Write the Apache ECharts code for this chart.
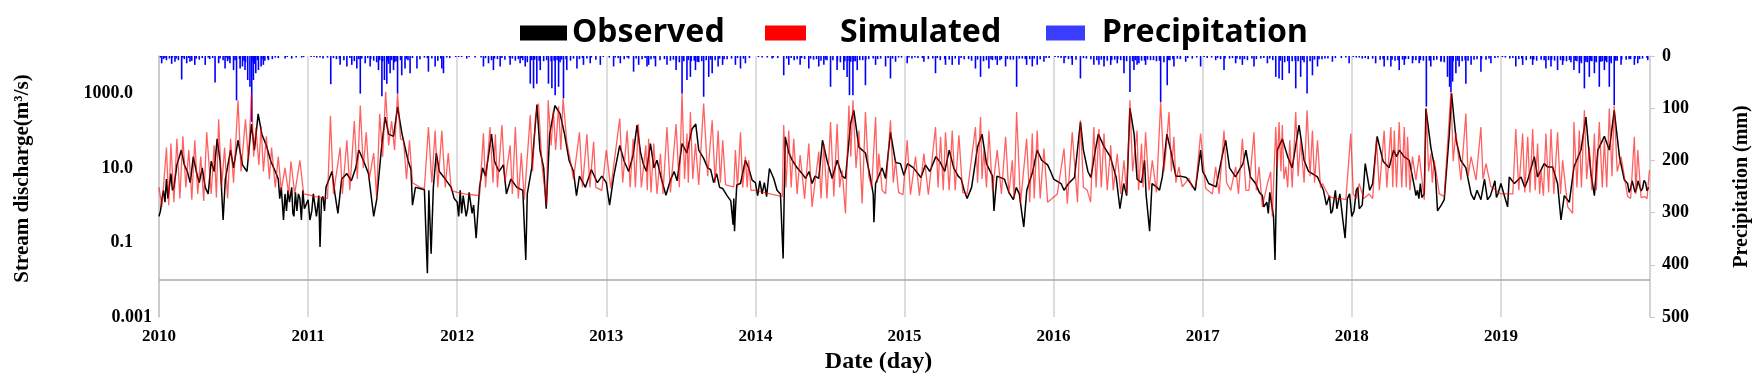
<!DOCTYPE html>
<html><head><meta charset="utf-8">
<script src="https://cdn.jsdelivr.net/npm/echarts@6/dist/echarts.min.js"></script>
<style>html,body{margin:0;padding:0;background:#fff}#c{width:1764px;height:386px}</style>
</head><body><div id="c"></div>
<script>
// x values are decimal years, discharge in m3/s, precipitation in mm
const observed = [
[2010.00,0.5],[2010.01,0.7],[2010.02,1.5],[2010.03,2.5],[2010.04,1.2],[2010.05,5],[2010.06,1.5],[2010.08,7],[2010.09,2.5],[2010.10,3],[2010.12,12],[2010.15,30],[2010.17,12],[2010.19,8],[2010.21,4],[2010.23,20],[2010.25,8],[2010.27,4],[2010.29,10],[2010.31,3],[2010.33,2],[2010.35,15],[2010.37,8],[2010.39,60],[2010.41,15],[2010.43,0.4],[2010.445,5],[2010.48,30],[2010.50,10],[2010.53,55],[2010.56,12],[2010.59,8],[2010.62,150],[2010.64,30],[2010.665,280],[2010.69,80],[2010.72,40],[2010.75,15],[2010.78,8],[2010.80,5],[2010.81,1.5],[2010.82,3],[2010.835,0.4],[2010.845,2],[2010.855,0.7],[2010.865,2.5],[2010.875,1.2],[2010.89,3],[2010.898,0.6],[2010.905,0.5],[2010.915,2.2],[2010.925,0.7],[2010.935,2],[2010.945,1.5],[2010.955,0.4],[2010.965,2.5],[2010.975,0.8],[2010.985,1.0],
[2011.00,1.4],[2011.012,0.4],[2011.025,0.7],[2011.035,2],[2011.047,2],[2011.056,0.5],[2011.065,0.5],[2011.072,1.8],[2011.08,0.076],[2011.09,1.5],[2011.10,1.7],[2011.11,0.7],[2011.12,3],[2011.16,8],[2011.18,2],[2011.20,0.6],[2011.225,5],[2011.26,7],[2011.29,4.5],[2011.32,10],[2011.34,30],[2011.37,16],[2011.405,7],[2011.44,0.5],[2011.46,1.4],[2011.495,45],[2011.517,230],[2011.54,80],[2011.573,70],[2011.60,430],[2011.63,80],[2011.67,16],[2011.69,9],[2011.70,1.0],[2011.72,3],[2011.75,2.8],[2011.78,2.6],[2011.80,0.015],[2011.81,2.5],[2011.825,0.05],[2011.84,3],[2011.86,25],[2011.88,8],[2011.92,5],[2011.96,3],[2011.98,1.5],
[2012.00,1.2],[2012.01,0.5],[2012.02,2.5],[2012.03,0.6],[2012.04,1.8],[2012.05,2],[2012.06,0.5],[2012.07,0.8],[2012.08,2.2],[2012.09,2.2],[2012.10,0.6],[2012.11,1.0],[2012.127,0.13],[2012.15,3],[2012.17,10],[2012.19,6],[2012.23,80],[2012.25,15],[2012.28,8],[2012.31,12],[2012.33,2],[2012.36,5],[2012.40,3],[2012.44,2.5],[2012.46,0.034],[2012.47,2],[2012.50,10],[2012.535,500],[2012.555,30],[2012.58,10],[2012.597,0.8],[2012.62,80],[2012.655,470],[2012.69,280],[2012.72,80],[2012.75,16],[2012.78,8],[2012.80,1.8],[2012.82,6],[2012.86,3],[2012.90,9],[2012.94,4],[2012.97,6],
[2013.00,4],[2013.022,1.0],[2013.05,6],[2013.09,40],[2013.12,15],[2013.15,8],[2013.18,22],[2013.206,140],[2013.23,25],[2013.25,12],[2013.27,8],[2013.296,45],[2013.32,10],[2013.34,16],[2013.37,5],[2013.40,1.85],[2013.43,4.7],[2013.455,8],[2013.475,4.5],[2013.508,45],[2013.54,25],[2013.575,110],[2013.60,150],[2013.62,30],[2013.653,18],[2013.68,10],[2013.70,9],[2013.72,4],[2013.74,7],[2013.76,3],[2013.78,2.8],[2013.81,1.8],[2013.835,1.3],[2013.845,0.5],[2013.85,0.3],[2013.855,1.5],[2013.86,0.2],[2013.865,0.6],[2013.875,3.5],[2013.90,3.8],[2013.933,16],[2013.955,10],[2013.978,4.7],
[2014.00,4],[2014.015,1.8],[2014.03,4.5],[2014.045,2],[2014.06,4],[2014.075,1.7],[2014.094,9.6],[2014.123,5.2],[2014.145,2.5],[2014.168,2.0],[2014.186,0.037],[2014.20,68],[2014.225,25],[2014.247,16],[2014.28,10],[2014.314,7],[2014.336,5.2],[2014.36,8],[2014.38,3.8],[2014.40,6],[2014.425,5.2],[2014.45,55],[2014.48,16],[2014.515,5.2],[2014.548,16],[2014.582,6],[2014.604,5.2],[2014.638,150],[2014.66,350],[2014.694,36],[2014.738,25],[2014.772,5.2],[2014.79,2],[2014.795,0.35],[2014.806,3.8],[2014.85,10],[2014.873,5.2],[2014.906,90],[2014.94,14],[2014.973,13],[2014.996,6.3],
[2015.02,13],[2015.06,10],[2015.09,7],[2015.11,5.5],[2015.14,12],[2015.17,8],[2015.21,20],[2015.24,14],[2015.27,8],[2015.30,30],[2015.33,10],[2015.36,6],[2015.38,5],[2015.40,2.5],[2015.42,1.5],[2015.45,3],[2015.49,36],[2015.52,80],[2015.55,13],[2015.59,6],[2015.60,0.7],[2015.62,6],[2015.67,5],[2015.70,2.2],[2015.73,1.4],[2015.75,3],[2015.77,2],[2015.79,0.5],[2015.80,0.26],[2015.82,2.5],[2015.86,8],[2015.89,30],[2015.92,16],[2015.96,12],[2015.98,8],
[2016.00,5],[2016.05,3.8],[2016.07,2.5],[2016.10,3.8],[2016.14,5.5],[2016.18,170],[2016.20,30],[2016.23,8],[2016.25,5.5],[2016.28,30],[2016.30,80],[2016.34,36],[2016.38,20],[2016.42,5.5],[2016.445,0.8],[2016.47,3.8],[2016.49,1.8],[2016.512,400],[2016.54,80],[2016.56,5],[2016.59,4],[2016.61,16],[2016.62,2],[2016.644,0.2],[2016.66,3.8],[2016.69,3.1],[2016.71,2.5],[2016.73,6],[2016.76,80],[2016.785,30],[2016.82,6],[2016.85,6],[2016.89,5.5],[2016.92,3.8],[2016.95,2.5],[2016.986,30],
[2017.00,8],[2017.02,5.7],[2017.04,3.8],[2017.09,3.1],[2017.13,20],[2017.154,55],[2017.18,10],[2017.22,5.7],[2017.27,13],[2017.29,30],[2017.32,5.7],[2017.355,3.8],[2017.38,2.2],[2017.40,1.8],[2017.41,0.9],[2017.43,1.2],[2017.44,0.6],[2017.45,2.2],[2017.475,0.5],[2017.485,0.034],[2017.50,30],[2017.534,60],[2017.57,20],[2017.60,10],[2017.646,140],[2017.68,16],[2017.71,8],[2017.77,5.7],[2017.81,2.5],[2017.83,1.0],[2017.85,1.8],[2017.86,0.6],[2017.87,0.7],[2017.89,2.5],[2017.90,0.8],[2017.92,2],[2017.93,1.8],[2017.94,0.4],[2017.955,0.13],[2017.97,1.5],[2017.985,2],
[2018.00,0.5],[2018.015,0.7],[2018.03,2.5],[2018.04,3],[2018.05,0.8],[2018.07,1.0],[2018.09,13],[2018.12,2.5],[2018.14,3.8],[2018.17,70],[2018.21,15],[2018.25,10],[2018.28,30],[2018.30,20],[2018.32,30],[2018.35,20],[2018.385,16],[2018.42,3.1],[2018.43,1.8],[2018.44,2.5],[2018.45,1.5],[2018.46,3.8],[2018.47,1.6],[2018.486,2],[2018.497,390],[2018.53,36],[2018.56,8],[2018.575,0.7],[2018.60,1.0],[2018.62,1.4],[2018.654,83],[2018.669,1000],[2018.70,55],[2018.73,16],[2018.765,10],[2018.80,2],[2018.82,1.4],[2018.84,2.5],[2018.866,1.4],[2018.89,5],[2018.91,1.4],[2018.93,1.8],[2018.96,4.5],[2018.97,1.6],[2018.98,2],
[2019.00,3.8],[2019.02,2],[2019.045,0.9],[2019.056,5.7],[2019.09,3.8],[2019.135,5.7],[2019.16,3],[2019.18,4.7],[2019.224,20],[2019.246,5.7],[2019.29,13],[2019.313,10.6],[2019.347,10.6],[2019.38,3.8],[2019.403,0.4],[2019.425,1.8],[2019.459,1.2],[2019.49,10.6],[2019.537,30],[2019.57,230],[2019.604,7],[2019.627,1.8],[2019.65,30],[2019.694,70],[2019.727,30],[2019.76,350],[2019.795,20],[2019.828,4.7],[2019.85,3.8],[2019.86,2.2],[2019.87,2.8],[2019.88,4.5],[2019.89,4],[2019.90,2.2],[2019.91,2.8],[2019.92,4.5],[2019.93,4.2],[2019.94,2.4],[2019.95,2.8],[2019.96,4.6],[2019.97,4],[2019.98,2.4],[2019.99,3]
];

const simulated = [
[2010.00,3],[2010.02,0.9],[2010.05,35],[2010.065,1.0],[2010.08,45],[2010.10,1.2],[2010.12,60],[2010.14,1.5],[2010.16,70],[2010.18,3],[2010.20,30],[2010.22,1.4],[2010.24,55],[2010.26,2],[2010.28,20],[2010.30,1.3],[2010.32,90],[2010.35,2],[2010.37,40],[2010.385,1.6],[2010.40,200],[2010.42,3],[2010.44,35],[2010.46,1.5],[2010.48,60],[2010.50,4],[2010.53,650],[2010.55,8],[2010.58,200],[2010.60,15],[2010.62,1000],[2010.635,20],[2010.65,120],[2010.67,12],[2010.685,130],[2010.70,8],[2010.72,70],[2010.74,5],[2010.755,35],[2010.78,3],[2010.80,20],[2010.82,2.5],[2010.845,10],[2010.87,2],[2010.885,15],[2010.91,2],[2010.945,16],[2010.97,2],
[2011.00,1.9],[2011.05,1.7],[2011.10,1.6],[2011.13,1.5],[2011.15,250],[2011.17,2],[2011.215,35],[2011.23,2],[2011.26,55],[2011.28,2.5],[2011.31,180],[2011.33,5],[2011.35,470],[2011.37,10],[2011.39,90],[2011.41,5],[2011.44,25],[2011.46,1.5],[2011.48,280],[2011.50,20],[2011.52,1100],[2011.54,40],[2011.56,180],[2011.58,30],[2011.60,1000],[2011.62,60],[2011.64,55],[2011.66,5],[2011.68,55],[2011.70,4],[2011.75,3],[2011.78,2.8],[2011.807,125],[2011.83,4],[2011.852,100],[2011.87,3],[2011.897,100],[2011.92,3],[2011.94,25],[2011.96,2.5],
[2012.00,2.2],[2012.05,2.0],[2012.10,1.9],[2012.15,1.8],[2012.176,85],[2012.19,3],[2012.22,125],[2012.24,4],[2012.256,80],[2012.27,3],[2012.30,140],[2012.32,4],[2012.355,40],[2012.37,2],[2012.39,125],[2012.41,1.5],[2012.43,25],[2012.45,1.4],[2012.49,260],[2012.505,8],[2012.525,230],[2012.545,530],[2012.57,10],[2012.60,1.0],[2012.61,650],[2012.63,40],[2012.645,350],[2012.66,30],[2012.68,450],[2012.695,30],[2012.71,720],[2012.735,50],[2012.76,15],[2012.78,5],[2012.82,90],[2012.84,3],[2012.87,80],[2012.89,3],[2012.915,50],[2012.93,3],[2012.97,2.5],
[2013.00,30],[2013.03,2.8],[2013.09,210],[2013.11,4],[2013.14,100],[2013.16,3],[2013.18,60],[2013.195,3],[2013.215,150],[2013.235,3],[2013.265,40],[2013.275,2.5],[2013.284,60],[2013.30,2.2],[2013.318,45],[2013.34,2],[2013.363,24],[2013.38,2],[2013.407,125],[2013.43,2.2],[2013.468,150],[2013.49,3],[2013.508,1000],[2013.525,5],[2013.541,83],[2013.55,4],[2013.564,315],[2013.58,5],[2013.598,45],[2013.62,3.5],[2013.653,530],[2013.68,6],[2013.71,190],[2013.73,4],[2013.75,100],[2013.765,4],[2013.781,55],[2013.80,3.5],[2013.855,3.1],[2013.866,30],[2013.88,3],[2013.90,90],[2013.915,3],[2013.933,20],[2013.945,3],[2013.955,16],[2013.97,2.5],
[2014.00,2.5],[2014.05,2.2],[2014.10,2],[2014.15,1.8],[2014.18,1.7],[2014.19,140],[2014.205,3],[2014.224,100],[2014.24,3],[2014.257,60],[2014.28,2],[2014.30,22],[2014.33,1.5],[2014.358,45],[2014.38,0.9],[2014.425,27],[2014.44,1.5],[2014.459,45],[2014.48,1.5],[2014.504,170],[2014.526,1.7],[2014.548,150],[2014.565,3],[2014.582,8.6],[2014.604,0.6],[2014.627,470],[2014.64,20],[2014.654,650],[2014.675,10],[2014.694,100],[2014.716,1.1],[2014.738,315],[2014.76,6],[2014.78,3],[2014.806,230],[2014.818,4],[2014.828,24],[2014.85,2.5],[2014.873,2],[2014.906,190],[2014.925,4],[2014.94,16],[2014.96,2.2],
[2014.99,1.9],[2015.018,55],[2015.04,1.9],[2015.074,20],[2015.10,1.8],[2015.13,24],[2015.16,1.9],[2015.208,125],[2015.225,3],[2015.242,68],[2015.26,2.5],[2015.275,90],[2015.30,2.5],[2015.32,100],[2015.34,2.5],[2015.365,75],[2015.39,2.2],[2015.42,2],[2015.476,125],[2015.49,4],[2015.51,230],[2015.52,5],[2015.532,30],[2015.55,3],[2015.566,100],[2015.59,2.5],[2015.622,30],[2015.65,2],[2015.678,68],[2015.70,2],[2015.723,16],[2015.735,1.5],[2015.752,315],[2015.778,1.1],[2015.819,60],[2015.84,1.2],[2015.857,83],[2015.87,1.5],[2015.89,100],[2015.91,1.5],[2015.935,33],[2015.96,1.2],[2015.99,1.5],
[2016.025,2],[2016.07,33],[2016.092,1.1],[2016.125,90],[2016.16,1.2],[2016.18,190],[2016.20,3],[2016.226,2.5],[2016.248,1.2],[2016.27,125],[2016.285,3],[2016.304,110],[2016.32,3],[2016.338,83],[2016.36,2.5],[2016.383,40],[2016.40,2.5],[2016.427,24],[2016.45,2],[2016.472,16],[2016.49,2],[2016.512,650],[2016.53,8],[2016.56,100],[2016.57,2.5],[2016.59,45],[2016.60,3],[2016.617,90],[2016.64,2.5],[2016.662,16],[2016.69,2.2],[2016.718,590],[2016.74,8],[2016.75,20],[2016.774,315],[2016.79,8],[2016.807,68],[2016.82,4],[2016.84,10.6],[2016.863,3.1],[2016.908,5.2],[2016.93,3],[2016.953,3.1],[2016.986,83],
[2017.02,2.8],[2017.065,2],[2017.087,10.6],[2017.11,2],[2017.143,100],[2017.16,4],[2017.188,2.5],[2017.221,10.6],[2017.24,2],[2017.266,60],[2017.29,2.5],[2017.31,2.5],[2017.344,90],[2017.36,2.5],[2017.378,10.6],[2017.40,0.9],[2017.434,3.8],[2017.456,7.8],[2017.467,0.49],[2017.49,125],[2017.50,10],[2017.512,170],[2017.525,8],[2017.534,140],[2017.545,5],[2017.557,10.6],[2017.57,3],[2017.584,55],[2017.60,3],[2017.624,315],[2017.64,6],[2017.657,55],[2017.68,4],[2017.70,350],[2017.72,6],[2017.736,100],[2017.75,4],[2017.77,55],[2017.79,3],[2017.803,3.8],[2017.848,1.7],[2017.89,1.5],[2017.93,1.5],[2017.96,1.4],[2017.993,83],[2018.01,2],[2018.03,1.5],[2018.049,3.8],[2018.08,1.5],[2018.116,2],[2018.14,1.5],
[2018.165,60],[2018.185,2.5],[2018.217,100],[2018.235,3],[2018.262,125],[2018.275,3],[2018.285,100],[2018.30,3],[2018.318,170],[2018.335,3],[2018.352,125],[2018.365,3],[2018.374,68],[2018.39,2.5],[2018.407,20],[2018.43,4.7],[2018.452,22],[2018.486,1.4],[2018.50,390],[2018.515,8],[2018.53,24],[2018.54,4],[2018.553,16],[2018.587,2],[2018.62,1.7],[2018.665,1100],[2018.68,15],[2018.698,90],[2018.732,4.7],[2018.765,285],[2018.78,6],[2018.80,20],[2018.833,4.7],[2018.866,125],[2018.88,5],[2018.90,13],[2018.933,3.1],[2018.967,2.5],[2019.00,2],[2019.05,2],[2019.08,2],
[2019.10,110],[2019.12,2.5],[2019.146,83],[2019.16,2.2],[2019.18,68],[2019.195,2.2],[2019.213,110],[2019.23,2.5],[2019.246,45],[2019.26,2],[2019.269,8.6],[2019.285,1.8],[2019.302,83],[2019.32,2.2],[2019.336,110],[2019.355,2],[2019.38,90],[2019.40,2],[2019.414,16],[2019.448,0.9],[2019.481,0.6],[2019.49,170],[2019.51,3],[2019.526,100],[2019.54,3],[2019.56,350],[2019.575,5],[2019.593,36],[2019.61,2.5],[2019.627,83],[2019.64,2.5],[2019.66,170],[2019.68,3],[2019.694,55],[2019.71,3],[2019.727,390],[2019.745,6],[2019.76,470],[2019.78,8],[2019.806,20],[2019.85,1.7],[2019.87,1.5],[2019.895,68],[2019.905,2],[2019.918,30],[2019.94,1.6],[2019.962,1.7],[2019.98,1.5],[2019.996,8.6]
];

const precipitationMajor = [
[2010.018,14],[2010.05,8],[2010.085,15],[2010.107,11],[2010.152,45],[2010.186,14],[2010.208,11],[2010.24,17],[2010.31,17],[2010.376,51],[2010.40,14],[2010.443,24],[2010.476,14],[2010.50,27],[2010.52,85],[2010.544,24],[2010.56,20],[2010.577,27],[2010.595,46],[2010.61,59],[2010.622,126],[2010.633,46],[2010.649,33],[2010.667,27],[2010.685,20],[2010.70,17],[2010.734,8],[2010.846,5],[2010.89,5],[2010.957,3],
[2011.058,3],[2011.10,5],[2011.152,54],[2011.215,17],[2011.26,20],[2011.293,17],[2011.327,24],[2011.35,72],[2011.383,14],[2011.416,20],[2011.472,27],[2011.495,77],[2011.512,46],[2011.528,53],[2011.55,33],[2011.573,27],[2011.60,72],[2011.628,37],[2011.65,24],[2011.684,33],[2011.73,24],[2011.807,30],[2011.852,20],[2011.897,24],[2011.908,33],
[2012.064,5],[2012.176,20],[2012.21,14],[2012.243,27],[2012.288,20],[2012.355,17],[2012.422,14],[2012.456,20],[2012.49,53],[2012.512,62],[2012.534,53],[2012.557,27],[2012.612,53],[2012.635,62],[2012.657,75],[2012.68,59],[2012.713,81],[2012.735,27],[2012.803,24],[2012.847,17],[2012.892,14],[2012.96,17],
[2013.049,20],[2013.094,14],[2013.183,30],[2013.217,17],[2013.273,20],[2013.284,17],[2013.33,20],[2013.407,17],[2013.468,27],[2013.508,72],[2013.541,46],[2013.564,40],[2013.598,27],[2013.653,78],[2013.687,40],[2013.71,33],[2013.75,20],[2013.78,17],[2013.866,17],[2013.90,24],[2013.933,14],
[2014.045,3],[2014.112,5],[2014.19,37],[2014.224,17],[2014.30,17],[2014.358,24],[2014.425,20],[2014.459,17],[2014.504,59],[2014.548,27],[2014.593,27],[2014.615,40],[2014.631,75],[2014.654,75],[2014.683,27],[2014.738,56],[2014.806,17],[2014.873,20],[2014.906,43],[2014.94,11],
[2015.018,14],[2015.13,11],[2015.208,33],[2015.275,17],[2015.32,17],[2015.365,17],[2015.476,24],[2015.51,40],[2015.566,24],[2015.622,17],[2015.678,20],[2015.752,59],[2015.819,17],[2015.857,20],[2015.89,17],[2015.935,11],
[2016.07,14],[2016.125,17],[2016.18,43],[2016.27,17],[2016.304,17],[2016.338,20],[2016.383,17],[2016.427,14],[2016.472,33],[2016.512,69],[2016.539,27],[2016.56,17],[2016.572,14],[2016.617,17],[2016.718,88],[2016.762,56],[2016.807,20],[2016.886,11],[2016.986,20],
[2017.087,8],[2017.143,27],[2017.221,14],[2017.266,17],[2017.344,20],[2017.434,14],[2017.49,40],[2017.512,43],[2017.534,46],[2017.58,33],[2017.624,62],[2017.657,40],[2017.70,72],[2017.736,37],[2017.77,20],[2017.87,11],[2017.982,14],
[2018.16,14],[2018.217,20],[2018.262,20],[2018.318,27],[2018.352,17],[2018.407,14],[2018.452,14],[2018.50,97],[2018.53,20],[2018.598,11],[2018.642,40],[2018.656,59],[2018.665,69],[2018.676,49],[2018.698,33],[2018.72,20],[2018.765,53],[2018.80,17],[2018.866,30],[2018.933,14],
[2019.10,20],[2019.146,17],[2019.213,17],[2019.302,24],[2019.336,20],[2019.38,27],[2019.414,17],[2019.49,27],[2019.526,33],[2019.56,62],[2019.593,40],[2019.627,33],[2019.66,59],[2019.694,27],[2019.727,59],[2019.76,94],[2019.806,17],[2019.895,17],[2019.918,14],[2019.985,8]
];

const precipitationMinor = [
[2010.03,6],[2010.07,5],[2010.13,8],[2010.17,6],[2010.22,9],[2010.27,7],[2010.29,4],[2010.34,6],[2010.43,8],[2010.46,10],[2010.58,12],[2010.64,15],[2010.71,9],[2010.76,6],[2010.80,4],[2010.92,3],
[2010.01,3],[2010.04,4],[2010.09,3],[2010.115,5],[2010.16,3],[2010.20,4],[2010.25,5],[2010.33,3],[2010.36,4],[2010.41,5],[2010.45,3],[2010.47,6],[2010.51,8],[2010.54,6],[2010.57,9],[2010.63,10],[2010.66,8],[2010.69,6],[2010.73,5],[2010.78,3],[2010.86,2],[2010.97,2],
[2011.02,2],[2011.19,6],[2011.24,8],[2011.31,10],[2011.44,9],[2011.46,12],[2011.54,15],[2011.58,12],[2011.67,8],[2011.75,6],[2011.83,5],[2011.87,9],[2011.95,4],
[2011.04,2],[2011.08,3],[2011.13,3],[2011.17,4],[2011.21,5],[2011.28,4],[2011.34,6],[2011.36,5],[2011.40,4],[2011.42,6],[2011.48,8],[2011.50,10],[2011.53,9],[2011.56,8],[2011.59,10],[2011.62,8],[2011.66,6],[2011.70,4],[2011.78,3],[2011.80,4],[2011.89,5],[2011.93,3],[2011.99,2],
[2012.03,2],[2012.12,3],[2012.23,8],[2012.27,6],[2012.32,7],[2012.39,9],[2012.44,8],[2012.47,12],[2012.58,10],[2012.69,12],[2012.76,9],[2012.82,6],[2012.87,5],[2012.93,7],
[2012.01,2],[2012.08,2],[2012.16,3],[2012.19,4],[2012.25,5],[2012.30,4],[2012.35,3],[2012.37,5],[2012.41,6],[2012.43,4],[2012.50,8],[2012.52,7],[2012.55,9],[2012.60,8],[2012.63,10],[2012.65,9],[2012.67,8],[2012.70,7],[2012.73,6],[2012.78,5],[2012.84,4],[2012.90,3],[2012.98,2],
[2013.02,3],[2013.12,6],[2013.15,5],[2013.24,6],[2013.36,8],[2013.43,9],[2013.49,12],[2013.57,10],[2013.62,12],[2013.73,8],[2013.81,6],[2013.84,5],[2013.96,4],
[2013.06,3],[2013.08,4],[2013.14,3],[2013.20,5],[2013.26,4],[2013.30,6],[2013.32,5],[2013.39,6],[2013.45,7],[2013.47,9],[2013.52,10],[2013.55,8],[2013.59,9],[2013.61,11],[2013.64,10],[2013.67,8],[2013.70,7],[2013.76,5],[2013.79,6],[2013.88,4],[2013.92,5],
[2014.08,3],[2014.15,4],[2014.26,8],[2014.33,6],[2014.39,7],[2014.44,9],[2014.48,8],[2014.57,12],[2014.67,10],[2014.72,8],[2014.76,6],[2014.84,5],[2014.98,3],
[2014.02,2],[2014.12,3],[2014.21,5],[2014.24,4],[2014.28,6],[2014.31,4],[2014.37,5],[2014.41,6],[2014.47,7],[2014.52,8],[2014.55,9],[2014.60,10],[2014.62,9],[2014.64,11],[2014.66,10],[2014.70,8],[2014.74,7],[2014.79,5],[2014.82,6],[2014.89,4],[2014.92,5],[2014.96,3],
[2015.05,5],[2015.09,4],[2015.16,6],[2015.24,8],[2015.30,7],[2015.40,6],[2015.45,9],[2015.53,10],[2015.59,8],[2015.65,6],[2015.71,7],[2015.79,5],[2015.84,6],[2015.97,4],
[2015.03,3],[2015.07,3],[2015.12,4],[2015.19,5],[2015.22,4],[2015.27,6],[2015.34,5],[2015.38,4],[2015.43,6],[2015.49,7],[2015.55,8],[2015.58,6],[2015.61,7],[2015.64,8],[2015.69,6],[2015.73,7],[2015.77,5],[2015.81,6],[2015.87,5],[2015.91,6],[2015.95,4],
[2016.03,3],[2016.10,6],[2016.15,7],[2016.22,5],[2016.29,8],[2016.36,9],[2016.41,7],[2016.45,8],[2016.49,10],[2016.59,9],[2016.65,8],[2016.69,10],[2016.74,12],[2016.78,8],[2016.85,6],[2016.93,5],
[2016.01,2],[2016.05,4],[2016.08,3],[2016.12,5],[2016.20,4],[2016.25,6],[2016.32,7],[2016.34,6],[2016.39,8],[2016.43,6],[2016.47,9],[2016.53,10],[2016.55,8],[2016.61,9],[2016.63,7],[2016.67,8],[2016.71,9],[2016.77,8],[2016.80,6],[2016.83,5],[2016.90,4],[2016.96,3],
[2017.03,4],[2017.12,6],[2017.18,5],[2017.25,6],[2017.30,8],[2017.39,5],[2017.47,8],[2017.55,12],[2017.60,10],[2017.68,12],[2017.72,10],[2017.80,6],[2017.84,5],[2017.93,4],
[2017.01,2],[2017.06,3],[2017.10,4],[2017.15,5],[2017.20,4],[2017.23,5],[2017.28,6],[2017.33,5],[2017.36,6],[2017.41,4],[2017.45,5],[2017.52,9],[2017.57,10],[2017.62,9],[2017.64,10],[2017.67,8],[2017.75,7],[2017.78,6],[2017.82,5],[2017.89,4],[2017.96,3],
[2018.03,3],[2018.07,5],[2018.11,6],[2018.19,7],[2018.24,8],[2018.29,9],[2018.34,7],[2018.38,6],[2018.43,8],[2018.48,9],[2018.57,7],[2018.62,12],[2018.74,10],[2018.78,9],[2018.84,6],[2018.90,7],[2018.96,4],
[2018.01,2],[2018.05,3],[2018.09,4],[2018.14,5],[2018.21,6],[2018.27,7],[2018.31,8],[2018.36,6],[2018.41,7],[2018.46,8],[2018.52,9],[2018.55,8],[2018.60,9],[2018.68,10],[2018.71,9],[2018.76,8],[2018.82,7],[2018.87,6],[2018.92,5],[2018.98,3],
[2019.03,3],[2019.06,5],[2019.12,6],[2019.17,8],[2019.24,9],[2019.27,7],[2019.32,8],[2019.36,9],[2019.44,10],[2019.47,12],[2019.51,10],[2019.54,14],[2019.58,12],[2019.61,10],[2019.64,12],[2019.68,10],[2019.71,12],[2019.74,14],[2019.78,9],[2019.84,7],[2019.87,6],[2019.95,5],
[2019.01,2],[2019.08,4],[2019.14,5],[2019.20,6],[2019.22,7],[2019.29,8],[2019.34,7],[2019.40,8],[2019.42,9],[2019.46,8],[2019.50,9],[2019.53,10],[2019.57,11],[2019.60,9],[2019.63,10],[2019.67,11],[2019.70,9],[2019.73,10],[2019.77,9],[2019.81,7],[2019.86,6],[2019.90,5],[2019.93,6],[2019.98,4]
];

const yearRange = [2010, 2020];
const dischargeLabels = {'-3': '0.001', '-1': '0.1', '1': '10.0', '3': '1000.0'};
const precipRange = [0, 500];

const precipitation = precipitationMajor.concat(precipitationMinor);
const serif = 'Liberation Serif';

const chart = echarts.init(document.getElementById('c'), null, {renderer: 'canvas'});
const legendText = {fontFamily: 'Noto Sans', fontWeight: 'bold', fontSize: 32, color: '#000'};
chart.setOption({
  animation: false,
  backgroundColor: '#fff',
  legend: [
    {left: 515, top: 12, icon: 'rect', itemWidth: 47, itemHeight: 15, selectedMode: false,
     data: [{name: 'Observed', itemStyle: {color: '#000', opacity: 1}}], textStyle: legendText},
    {left: 760, top: 12, icon: 'rect', itemWidth: 41, itemHeight: 15, selectedMode: false,
     data: [{name: 'Simulated', itemStyle: {color: '#ff0000', opacity: 1}}], textStyle: Object.assign({padding: [0,0,0,29]}, legendText)},
    {left: 1041, top: 12, icon: 'rect', itemWidth: 39, itemHeight: 15, selectedMode: false,
     data: [{name: 'Precipitation', itemStyle: {color: '#3c3cff', opacity: 1}}], textStyle: Object.assign({padding: [0,0,0,12]}, legendText)}
  ],
  grid: {left: 159, right: 114, top: 56, bottom: 69, containLabel: false},
  xAxis: {
    type: 'value', min: yearRange[0], max: yearRange[1], interval: 1,
    name: 'Date (day)', nameLocation: 'middle', nameGap: 33,
    nameTextStyle: {fontFamily: serif, fontWeight: 'bold', fontSize: 24, color: '#000', padding: [0, 52, 0, 0]},
    axisLine: {show: false}, axisTick: {show: false},
    splitLine: {show: true, lineStyle: {color: '#d2d2d2', width: 1.5}},
    axisLabel: {fontFamily: serif, fontWeight: 'bold', fontSize: 17, color: '#000', margin: 11,
      formatter: v => (v >= yearRange[1] ? '' : String(Math.round(v)))}
  },
  yAxis: [
    {
      type: 'log', logBase: 10, min: 0.001, max: 10000,
      name: 'Stream discharge(m³/s)', nameLocation: 'middle', nameGap: 126,
      nameTextStyle: {fontFamily: serif, fontWeight: 'bold', fontSize: 21, color: '#000', padding: [0, 0, 0, 16]},
      axisLine: {show: true, lineStyle: {color: '#c4c4c4', width: 1.5}},
      axisTick: {show: false}, splitLine: {show: false},
      axisLabel: {
        margin: 7, color: '#000',
        formatter: v => {
          const e = String(Math.round(Math.log10(v)));
          const t = dischargeLabels[e];
          if (!t) return '';
          return e === '-3' ? '{b|' + t + '}' : '{a|' + t + '}';
        },
        rich: {
          a: {fontFamily: serif, fontWeight: 'bold', fontSize: 18, color: '#000', padding: [0, 19, 0, 0]},
          b: {fontFamily: serif, fontWeight: 'bold', fontSize: 18, color: '#000'}
        }
      }
    },
    {
      type: 'value', min: precipRange[0], max: precipRange[1], interval: 100, inverse: true, position: 'right',
      name: 'Precipitation (mm)', nameLocation: 'middle', nameGap: 82,
      nameTextStyle: {fontFamily: serif, fontWeight: 'bold', fontSize: 20, color: '#000'},
      axisLine: {show: true, lineStyle: {color: '#d0d0d0', width: 1.5}},
      axisTick: {show: true, length: 5, lineStyle: {color: '#c8c8c8'}},
      splitLine: {show: false},
      axisLabel: {fontFamily: serif, fontWeight: 'bold', fontSize: 18, color: '#000', margin: 12}
    }
  ],
  series: [
    {
      name: 'Precipitation', type: 'bar', yAxisIndex: 1, data: precipitation,
      barWidth: 1.6, itemStyle: {color: '#0000ff'}, z: 1, silent: true
    },
    {
      name: 'Observed', type: 'line', yAxisIndex: 0, data: observed, symbol: 'none', showSymbol: false,
      lineStyle: {color: '#000', width: 1.5}, itemStyle: {color: '#000'}, z: 2, silent: true,
      markLine: {silent: true, symbol: 'none', label: {show: false},
        lineStyle: {color: '#a9a9a9', width: 1.5, type: 'solid'}, data: [{yAxis: 0.01}]}
    },
    {
      name: 'Simulated', type: 'line', yAxisIndex: 0, data: simulated, symbol: 'none', showSymbol: false,
      lineStyle: {color: '#ff0000', width: 1.3, opacity: 0.62}, itemStyle: {color: '#ff0000'}, z: 3, silent: true
    }
  ]
});
</script></body></html>
